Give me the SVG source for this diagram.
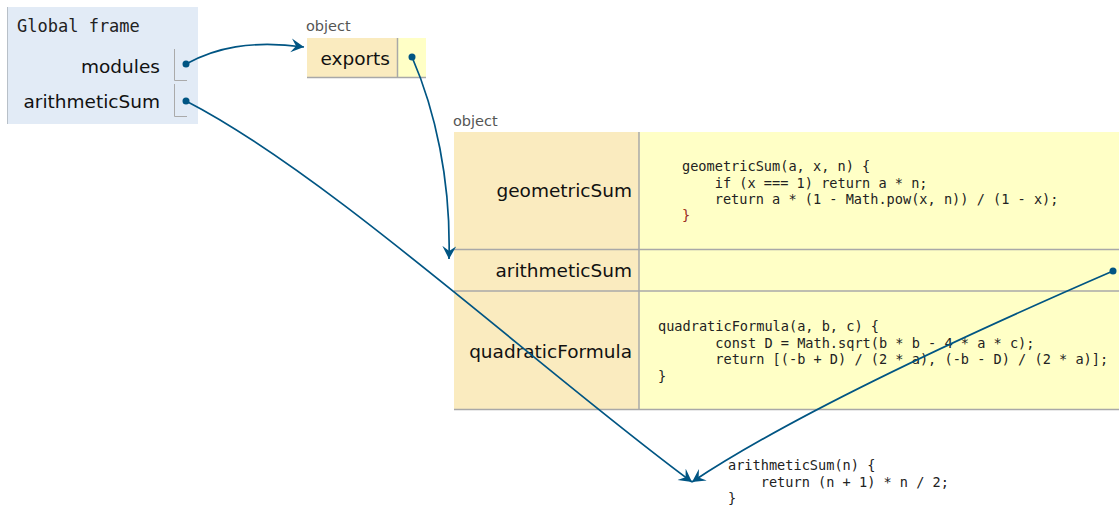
<svg xmlns="http://www.w3.org/2000/svg" width="1119" height="508" viewBox="0 0 1119 508">
  <style>
    .lbl { font-family: "DejaVu Sans", Verdana, sans-serif; font-size: 18.5px; fill: #111; }
    .small { font-family: "DejaVu Sans", Verdana, sans-serif; font-size: 14.5px; fill: #555; }
    .mono { font-family: "DejaVu Sans Mono", "Liberation Mono", monospace; fill: #222; }
    .code { font-family: "DejaVu Sans Mono", "Liberation Mono", monospace; font-size: 13.6px; fill: #222; white-space: pre; }
    .key { fill: #faebbf; }
    .val { fill: #ffffc6; }
    .sep { stroke: #a8a8a8; stroke-width: 1.5; fill: none; }
    .ptr { stroke: #005583; stroke-width: 1.7; fill: none; }
    .dot { fill: #005583; }
    .slot { stroke: #aaa; stroke-width: 1; fill: none; }
  </style>
  <defs>
    <marker id="arrow" markerUnits="userSpaceOnUse" markerWidth="16" markerHeight="16" refX="13" refY="7" orient="auto">
      <path d="M0,0 L13,7 L0,14 L5,7 Z" fill="#005583"/>
    </marker>
  </defs>

  <rect width="1119" height="508" fill="#ffffff"/>

  <!-- global frame -->
  <g id="global-frame">
    <rect x="7" y="7" width="191" height="117" fill="#e2ebf6"/>
    <line x1="7.5" y1="7" x2="7.5" y2="124" stroke="#b8c0c8" stroke-width="1"/>
    <text class="mono" x="17" y="32" font-size="17">Global frame</text>
    <text class="lbl" x="160" y="73" text-anchor="end">modules</text>
    <text class="lbl" x="160" y="108" text-anchor="end">arithmeticSum</text>
    <path class="slot" d="M174.5,49 V80.5 H187"/>
    <path class="slot" d="M174.5,84 V116.5 H187"/>
  </g>

  <!-- module object -->
  <g id="module-object">
    <text class="small" x="306" y="31">object</text>
    <rect class="key" x="307" y="38" width="90" height="40"/>
    <rect class="val" x="398" y="38" width="28" height="40"/>
    <line class="sep" x1="397.5" y1="38" x2="397.5" y2="78"/>
    <line class="sep" x1="307" y1="77.5" x2="426" y2="77.5"/>
    <text class="lbl" x="390" y="65" text-anchor="end">exports</text>
  </g>

  <!-- exports object -->
  <g id="exports-object">
    <text class="small" x="453" y="126">object</text>
    <rect class="key" x="454" y="132" width="185" height="277"/>
    <rect class="val" x="639" y="132" width="480" height="277"/>
    <line class="sep" x1="639" y1="132" x2="639" y2="409"/>
    <line class="sep" x1="454" y1="249.5" x2="1119" y2="249.5"/>
    <line class="sep" x1="454" y1="291" x2="1119" y2="291"/>
    <line class="sep" x1="454" y1="409.5" x2="1119" y2="409.5"/>

    <text class="lbl" x="632" y="197" text-anchor="end">geometricSum</text>
    <text class="lbl" x="632" y="277" text-anchor="end">arithmeticSum</text>
    <text class="lbl" x="632" y="358" text-anchor="end">quadraticFormula</text>

    <text class="code" x="682" y="171">geometricSum(a, x, n) {</text>
    <text class="code" x="682" y="187.5">    if (x === 1) return a * n;</text>
    <text class="code" x="682" y="204">    return a * (1 - Math.pow(x, n)) / (1 - x);</text>
    <text class="code" x="682" y="220" style="fill:#9a2a20">}</text>

    <text class="code" x="658" y="331">quadraticFormula(a, b, c) {</text>
    <text class="code" x="658" y="347.5">       const D = Math.sqrt(b * b - 4 * a * c);</text>
    <text class="code" x="658" y="364">       return [(-b + D) / (2 * a), (-b - D) / (2 * a)];</text>
    <text class="code" x="658" y="381">}</text>
  </g>

  <!-- function value -->
  <g id="arithmetic-sum-fn">
    <text class="code" x="728" y="470">arithmeticSum(n) {</text>
    <text class="code" x="728" y="487">    return (n + 1) * n / 2;</text>
    <text class="code" x="728" y="503">}</text>
  </g>

  <!-- pointers -->
  <g id="connectors">
    <path class="ptr" d="M186,64 C215,48 250,40 304,47" marker-end="url(#arrow)"/>
    <path class="ptr" d="M412,57 C435,110 451,180 449,259" marker-end="url(#arrow)"/>
    <path class="ptr" d="M186,101 C330,175 540,370 692,482" marker-end="url(#arrow)"/>
    <path class="ptr" d="M1113,271 C1000,320 800,410 692,482" marker-end="url(#arrow)"/>
    <circle class="dot" cx="186" cy="64" r="3.5"/>
    <circle class="dot" cx="186" cy="101" r="3.5"/>
    <circle class="dot" cx="412" cy="57" r="3.5"/>
    <circle class="dot" cx="1113" cy="271" r="3.5"/>
  </g>
</svg>
